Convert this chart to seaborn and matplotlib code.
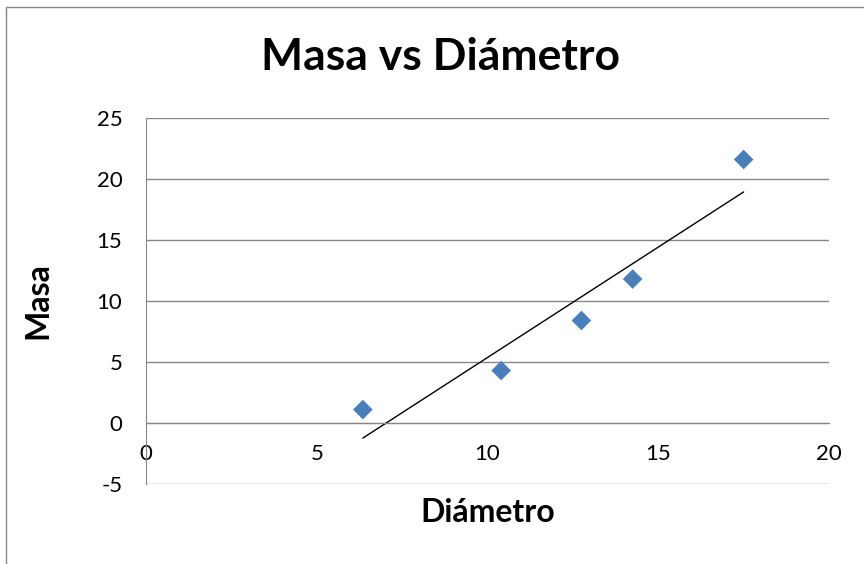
import seaborn as sns
import pandas as pd
import matplotlib.pyplot as plt
from matplotlib.patches import Rectangle

# data
diametro = [6.35, 10.4, 12.75, 14.25, 17.5]
masa = [1.1, 4.3, 8.4, 11.8, 21.6]
x_ticks = [0, 5, 10, 15, 20]
y_ticks = [-5, 0, 5, 10, 15, 20, 25]

df = pd.DataFrame({"Diámetro": diametro, "Masa": masa})

sns.set_style("white")
plt.rcParams["font.family"] = ["Lato", "DejaVu Sans"]
plt.rcParams["text.color"] = "black"
plt.rcParams["axes.labelcolor"] = "black"
plt.rcParams["xtick.color"] = "black"
plt.rcParams["ytick.color"] = "black"
plt.rcParams["axes.unicode_minus"] = False

grey = "#868686"
fig = plt.figure(figsize=(8.64, 5.64), dpi=100)
ax = fig.add_axes([146 / 864, 1 - 484 / 564, (829 - 146) / 864, (484 - 118) / 564])

# chart area border (Excel style)
fig.patches.append(Rectangle((6 / 864, -0.1), 1.2, 1 - 7 / 564 + 0.1, transform=fig.transFigure,
                             fill=False, edgecolor=grey, lw=1))

# linear trendline + points
sns.regplot(data=df, x="Diámetro", y="Masa", scatter=False, ci=None, color="black",
            line_kws={"lw": 1}, ax=ax)
sns.scatterplot(data=df, x="Diámetro", y="Masa", marker="D", s=100, color="#4A7EBB",
                edgecolor="none", ax=ax, zorder=3)

ax.set_xlim(0, 20)
ax.set_ylim(-5, 25)
ax.set_xticks(x_ticks)
ax.set_yticks(y_ticks)
ax.grid(axis="y", color=grey, lw=1)
ax.set_axisbelow(True)

ax.spines["top"].set_visible(False)
ax.spines["right"].set_visible(False)
ax.spines["bottom"].set_position(("data", 0))
ax.spines["bottom"].set_color(grey)
ax.spines["left"].set_color(grey)
ax.tick_params(axis="x", length=0, pad=15, labelsize=16)
ax.tick_params(axis="y", length=0, pad=17, labelsize=16)

ax.set_xlabel("Diámetro", fontsize=23, weight="bold")
ax.xaxis.set_label_coords(0.5, -0.038)
ax.set_ylabel("Masa", fontsize=23, weight="bold", va="center")
ax.yaxis.set_label_coords(-0.158, 0.5)

fig.text(441 / 864, 1 - 57 / 564, "Masa vs Diámetro", ha="center", va="center",
         fontsize=32, weight="bold")

fig.savefig("out.png", dpi=100)
